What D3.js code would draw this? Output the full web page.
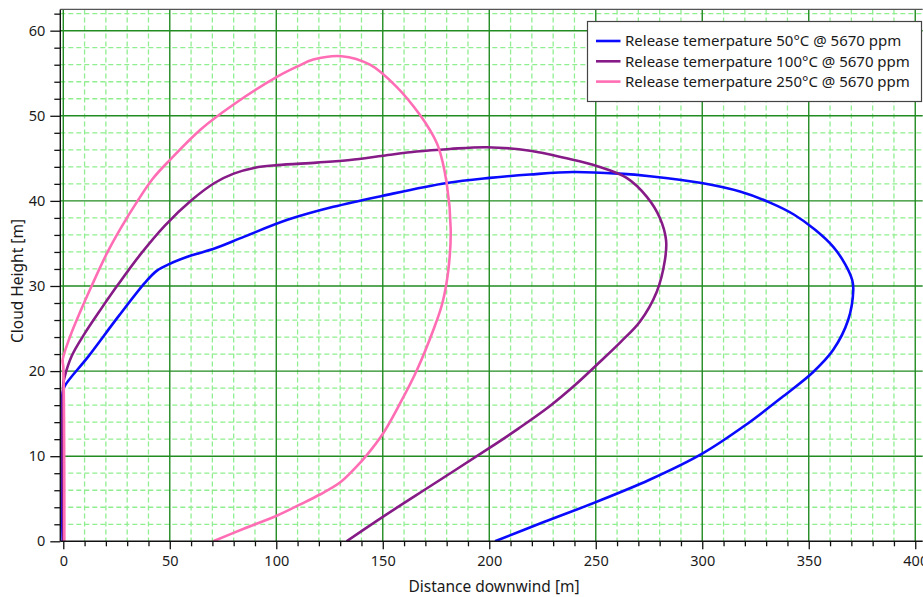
<!DOCTYPE html>
<head>
<meta charset="utf-8">
<script src="https://d3js.org/d3.v7.min.js"></script>
<style>
body {
  margin: 0;
  background-color: #fff;
}
text {
  font-family: "Noto Sans", "Open Sans", sans-serif;
  fill: #1a1a1a;
}
.minor line {
  stroke: #90ee90;
  stroke-width: 1.3px;
  stroke-dasharray: 5,3;
}
.major line {
  stroke: #228b22;
  stroke-width: 1.4px;
}
.curve {
  fill: none;
  stroke-width: 2.6px;
  stroke-linejoin: round;
}
</style>
</head>
<body>
<svg width="923" height="597"></svg>

<script>

// cloud profiles: distance downwind [m] / cloud height [m]
var dist50  = [-0.3, -0.3, 0.8, 11.7, 25.8, 38.4, 44, 50, 60.3, 71, 85, 105.6, 126.8, 150, 180, 200.3, 219, 239.4, 261, 275.4, 299.7, 317.7, 331.8, 343, 353, 361.5, 367, 370.4, 370.9, 368.5, 361.5, 352.1, 337.3, 320, 300, 275, 250, 225, 202.7];
var height50 = [0, 17.5, 18.3, 21.7, 26.4, 30.4, 31.8, 32.6, 33.6, 34.4, 35.8, 37.8, 39.3, 40.6, 42.1, 42.7, 43.1, 43.4, 43.2, 42.9, 42.1, 41.1, 39.8, 38.4, 36.6, 34.6, 32.6, 30.7, 29.5, 26.0, 22.5, 19.9, 16.9, 13.6, 10.3, 7.2, 4.6, 2.2, 0];

var dist100  = [0, 0, 0.5, 4, 10, 18, 25.8, 36.5, 47.7, 60.3, 71, 80, 90, 100.5, 119, 134.6, 150.2, 165.9, 181.5, 198.8, 219.1, 236.3, 250.4, 264.5, 273.9, 280.1, 283, 282.5, 278.6, 270.7, 262, 252, 240, 228.5, 214, 200.3, 173.7, 150.2, 133];
var height100 = [0, 18.5, 19.2, 21.8, 24.4, 27.4, 30.2, 33.8, 37.1, 40.1, 42.1, 43.2, 43.9, 44.2, 44.5, 44.8, 45.3, 45.8, 46.1, 46.3, 45.9, 45.0, 44.1, 42.7, 40.5, 38.0, 35.4, 33.1, 29.3, 25.8, 23.5, 21.1, 18.3, 15.9, 13.3, 11.0, 6.7, 2.9, 0];

var dist250  = [0.5, 0, -0.3, 3.1, 8, 13.3, 20.4, 27, 34.9, 42, 50, 64.5, 79.8, 100.5, 110, 117.4, 130.7, 144, 156.5, 167.5, 172.2, 176, 180, 181.9, 180.8, 178, 174, 166, 158.1, 150.2, 142.4, 137, 129.9, 120.5, 111, 100.2, 85, 70.4];
var height250 = [0, 20.5, 21.3, 24, 27, 30, 33.8, 36.8, 40, 42.6, 44.8, 48.4, 51.3, 54.6, 55.8, 56.6, 57.0, 56.0, 53.4, 50.1, 48.3, 46.4, 42.1, 36.6, 31.9, 28.0, 25.0, 20.1, 16.2, 12.7, 10.1, 8.6, 6.9, 5.5, 4.3, 3.0, 1.5, 0];

var seriesNames = ["Release temerpature 50°C @ 5670 ppm", "Release temerpature 100°C @ 5670 ppm", "Release temerpature 250°C @ 5670 ppm"];
var seriesColors = ["#0a0aff", "#861a86", "#ff6eb4"];

var xMajor = [0, 50, 100, 150, 200, 250, 300, 350, 400];
var yMajor = [0, 10, 20, 30, 40, 50, 60];

var svg = d3.select("svg");

var x = d3.scaleLinear().domain([-1.4, 403.5]).range([60.3, 922.7]);
var y = d3.scaleLinear().domain([0, 62.5]).range([541.3, 9.4]);

// note: "top" is taken by window.top, so plot edges get their own names
var plotLeft = x.range()[0], plotRight = x.range()[1],
    plotBottom = y.range()[0], plotTop = y.range()[1];

var xMinor = d3.range(0, 401, 10).filter(function(v) { return v % 50 != 0; });
var yMinor = d3.range(0, 63, 2).filter(function(v) { return v % 10 != 0; });

// grid
var minor = svg.append("g").attr("class", "minor");
minor.selectAll(".vx").data(xMinor).enter().append("line")
    .attr("x1", function(d) { return x(d); }).attr("x2", function(d) { return x(d); })
    .attr("y1", plotTop).attr("y2", plotBottom);
minor.selectAll(".hy").data(yMinor).enter().append("line")
    .attr("y1", function(d) { return y(d); }).attr("y2", function(d) { return y(d); })
    .attr("x1", plotLeft).attr("x2", plotRight);

var major = svg.append("g").attr("class", "major");
major.selectAll(".vx").data(xMajor).enter().append("line")
    .attr("x1", function(d) { return x(d); }).attr("x2", function(d) { return x(d); })
    .attr("y1", plotTop).attr("y2", plotBottom);
major.selectAll(".hy").data(yMajor.slice(1)).enter().append("line")
    .attr("y1", function(d) { return y(d); }).attr("y2", function(d) { return y(d); })
    .attr("x1", plotLeft).attr("x2", plotRight);

// plot frame top
svg.append("line").attr("x1", plotLeft).attr("x2", plotRight).attr("y1", plotTop).attr("y2", plotTop)
    .attr("stroke", "#555").attr("stroke-width", 1.2);

// curves
svg.append("clipPath").attr("id", "clip").append("rect")
    .attr("x", plotLeft).attr("y", plotTop)
    .attr("width", plotRight - plotLeft).attr("height", plotBottom - plotTop);

var line = d3.line()
    .x(function(d) { return x(d[0]); })
    .y(function(d) { return y(d[1]); })
    .curve(d3.curveCatmullRom.alpha(0.5));

var curves = [d3.zip(dist50, height50), d3.zip(dist100, height100), d3.zip(dist250, height250)];

svg.append("g").attr("clip-path", "url(#clip)")
  .selectAll("path").data(curves).enter().append("path")
    .attr("class", "curve")
    .attr("stroke", function(d, i) { return seriesColors[i]; })
    .attr("d", line);

// axes
function styleAxis(g) {
  g.select(".domain").remove();
  g.selectAll("line").attr("stroke", "#111").attr("stroke-width", 1.3);
  g.selectAll("text").attr("font-size", "14.5px").attr("fill", "#1a1a1a");
}

svg.append("g").attr("transform", "translate(0," + plotBottom + ")")
    .call(d3.axisBottom(x).tickValues(xMinor).tickSize(5).tickFormat(""))
    .call(styleAxis);
svg.append("g").attr("transform", "translate(0," + plotBottom + ")")
    .call(d3.axisBottom(x).tickValues(xMajor).tickSize(8).tickPadding(6))
    .call(styleAxis);

svg.append("g").attr("transform", "translate(" + plotLeft + ",0)")
    .call(d3.axisLeft(y).tickValues(yMinor).tickSize(6).tickFormat(""))
    .call(styleAxis);
svg.append("g").attr("transform", "translate(" + plotLeft + ",0)")
    .call(d3.axisLeft(y).tickValues(yMajor).tickSize(10).tickPadding(5))
    .call(styleAxis);

svg.append("line").attr("x1", plotLeft).attr("x2", plotLeft).attr("y1", plotTop).attr("y2", plotBottom)
    .attr("stroke", "#111").attr("stroke-width", 1.4);
svg.append("line").attr("x1", plotLeft).attr("x2", plotRight).attr("y1", plotBottom).attr("y2", plotBottom)
    .attr("stroke", "#111").attr("stroke-width", 1.4);

// axis titles
svg.append("text")
    .attr("x", 494).attr("y", 592)
    .attr("text-anchor", "middle").attr("font-size", "15.5px")
    .text("Distance downwind [m]");
svg.append("text")
    .attr("transform", "translate(23,281) rotate(-90)")
    .attr("text-anchor", "middle").attr("font-size", "15.5px")
    .text("Cloud Height [m]");

// legend
var legend = svg.append("g");
legend.append("rect")
    .attr("x", 587.5).attr("y", 21.5).attr("width", 334).attr("height", 80)
    .attr("fill", "#fff").attr("stroke", "#444").attr("stroke-width", 1.2);

var item = legend.selectAll(".item").data(seriesNames).enter().append("g")
    .attr("transform", function(d, i) { return "translate(0," + (41 + i * 20.3) + ")"; });
item.append("line")
    .attr("x1", 596).attr("x2", 620.5)
    .attr("stroke", function(d, i) { return seriesColors[i]; })
    .attr("stroke-width", 2.6);
item.append("text")
    .attr("x", 625).attr("dy", "0.35em").attr("font-size", "15px")
    .text(function(d) { return d; });

</script>
</body>
